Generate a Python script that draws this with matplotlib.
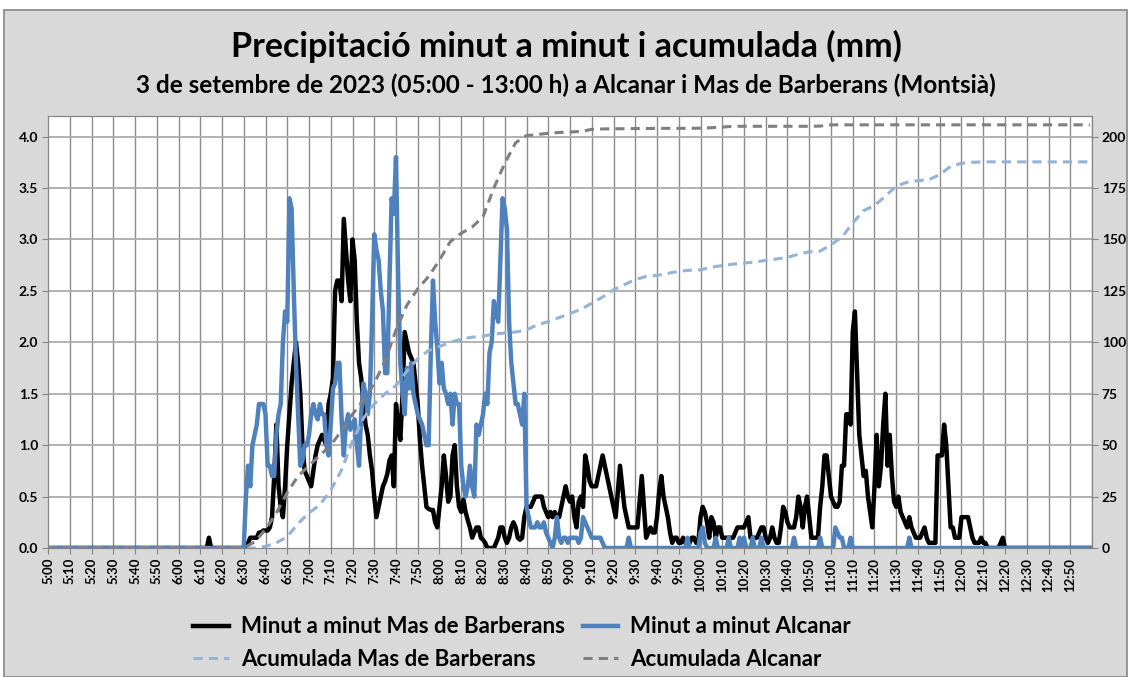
import numpy as np
import matplotlib.pyplot as plt
from matplotlib.patches import Rectangle
from matplotlib.lines import Line2D

plt.rcParams['font.family'] = ['Lato', 'DejaVu Sans']

# minutes counted from 05:00 (0) to 13:00 (480)
n_min = 480
tick_labels = [f"{5 + m // 60}:{m % 60:02d}" for m in range(0, 480, 10)]

# Mas de Barberans, minute by minute (mm), from 06:32 (minute 92)
mas_start = 92
mas_vals = [
    0.05, 0.1, 0.1, 0.1, 0.1, 0.15, 0.15, 0.17, 0.17, 0.17,
    0.2, 0.3, 0.7, 1.2, 0.6, 0.4, 0.3, 0.6, 1.0, 1.3,
    1.6, 1.8, 2.0, 1.8, 1.5, 1.0, 0.75, 0.7, 0.65, 0.6,
    0.75, 0.9, 1.0, 1.05, 1.1, 1.05, 1.0, 1.4, 1.5, 1.65,
    2.5, 2.6, 2.6, 2.4, 3.2, 2.9, 2.6, 2.4, 3.0, 2.8,
    2.2, 1.8, 1.65, 1.4, 1.2, 1.1, 0.9, 0.75, 0.5, 0.3,
    0.4, 0.5, 0.6, 0.65, 0.72, 0.85, 0.9, 0.6, 1.4, 1.2,
    1.05, 1.5, 2.1, 2.0, 1.9, 1.85, 1.8, 1.6, 1.4, 1.05,
    0.8, 0.6, 0.4, 0.38, 0.37, 0.37, 0.25, 0.2, 0.4, 0.6,
    0.9, 0.7, 0.45, 0.5, 0.9, 1.0, 0.6, 0.4, 0.35, 0.47,
    0.35, 0.27, 0.2, 0.1, 0.15, 0.2, 0.2, 0.1, 0.08, 0.05,
    0.0, 0.0, 0.0, 0.0, 0.05, 0.1, 0.2, 0.2, 0.1, 0.05,
    0.1, 0.2, 0.25, 0.2, 0.1, 0.08, 0.1, 0.3, 0.4, 0.4,
    0.4, 0.45, 0.5, 0.5, 0.5, 0.5, 0.4, 0.35, 0.3, 0.35,
    0.3, 0.35, 0.3, 0.3, 0.4, 0.5, 0.6, 0.5, 0.45, 0.5,
    0.3, 0.2, 0.45, 0.5, 0.4, 0.9, 0.8, 0.65, 0.6, 0.6,
    0.6, 0.7, 0.8, 0.9, 0.8, 0.7, 0.6, 0.5, 0.4, 0.3,
    0.55, 0.8, 0.6, 0.4, 0.3, 0.2, 0.2, 0.2, 0.2, 0.2,
    0.45, 0.7, 0.4, 0.1, 0.15, 0.2, 0.15, 0.15, 0.3, 0.55,
    0.7, 0.5, 0.4, 0.3, 0.15, 0.05, 0.1, 0.1, 0.05, 0.05,
    0.1, 0.05, 0.03, 0.05, 0.1, 0.1, 0.05, 0.05, 0.3, 0.4,
    0.35, 0.25, 0.1, 0.3, 0.25, 0.1, 0.2, 0.2, 0.1, 0.1,
    0.1, 0.1, 0.1, 0.1, 0.15, 0.2, 0.2, 0.2, 0.2, 0.25,
    0.3, 0.1, 0.1, 0.1, 0.1, 0.15, 0.2, 0.2, 0.1, 0.05,
    0.1, 0.2, 0.1, 0.05, 0.05, 0.2, 0.4, 0.35, 0.25, 0.2,
    0.2, 0.2, 0.3, 0.5, 0.4, 0.2, 0.4, 0.5, 0.3, 0.1,
    0.1, 0.1, 0.1, 0.4, 0.6, 0.9, 0.9, 0.7, 0.5, 0.45,
    0.4, 0.4, 0.45, 0.8, 0.8, 1.3, 1.3, 1.2, 2.1, 2.3,
    1.7, 1.1, 0.9, 0.7, 0.75, 0.5, 0.35, 0.2, 0.6, 1.1,
    0.6, 0.8, 1.2, 1.5, 0.8, 1.1, 0.7, 0.45, 0.4, 0.5,
    0.35, 0.3, 0.25, 0.2, 0.3, 0.2, 0.15, 0.1, 0.1, 0.1,
    0.15, 0.2, 0.1, 0.05, 0.05, 0.05, 0.05, 0.9, 0.9, 0.9,
    1.2, 1.0, 0.6, 0.2, 0.2, 0.1, 0.1, 0.1, 0.3, 0.3,
    0.3, 0.3, 0.2, 0.1, 0.05, 0.05, 0.05, 0.1, 0.05, 0.05,
    0.0, 0.0, 0.0, 0.0, 0.0, 0.0, 0.05, 0.1,
]
mas_blip_min = [74]
mas_blip_val = [0.1]

# Alcanar, minute by minute (mm), from 06:30 (minute 90)
alc_start = 90
alc_vals = [
    0.0, 0.5, 0.8, 0.6, 1.0, 1.1, 1.2, 1.4, 1.4, 1.4,
    1.3, 0.8, 0.8, 0.7, 0.7, 1.1, 1.3, 1.4, 2.0, 2.3,
    2.2, 3.4, 3.3, 2.5, 1.8, 1.3, 0.8, 0.85, 1.0, 1.0,
    1.1, 1.3, 1.4, 1.3, 1.25, 1.4, 1.3, 1.3, 1.0, 0.9,
    1.2, 1.55, 1.6, 1.8, 1.8, 1.25, 0.9, 1.2, 1.3, 1.15,
    1.2, 1.25, 1.0, 0.8, 1.3, 1.6, 1.5, 1.3, 1.5, 2.2,
    3.05, 2.9, 2.8, 2.5, 2.3, 1.7, 1.7, 2.6, 3.4, 3.25,
    3.8, 2.6, 1.8, 1.5, 1.3, 1.75, 1.55, 1.8, 1.5, 1.4,
    1.3, 1.25, 1.2, 1.1, 1.0, 1.0, 1.9, 2.6, 2.2, 1.95,
    1.6, 1.8, 1.55, 1.5, 1.4, 1.5, 1.2, 1.5, 1.4, 1.4,
    0.8, 0.6, 0.5, 0.6, 0.8, 0.6, 0.5, 1.2, 1.1, 1.2,
    1.3, 1.5, 1.4, 1.9, 2.0, 2.4, 2.3, 2.2, 2.8, 3.4,
    3.3, 3.1, 2.2, 1.8, 1.6, 1.4, 1.4, 1.3, 1.2, 1.5,
    0.4, 0.3, 0.2, 0.2, 0.2, 0.25, 0.2, 0.2, 0.25, 0.15,
    0.1, 0.05, 0.0, 0.1, 0.3, 0.1, 0.05, 0.1, 0.1, 0.05,
    0.1, 0.1, 0.1, 0.1, 0.05, 0.1, 0.3, 0.25, 0.2, 0.15,
    0.1, 0.1, 0.1, 0.1, 0.1, 0.05,
]
alc_tail_min = [267, 294, 300, 301, 302, 307, 313, 318, 320, 324, 328,
                343, 355, 362, 363, 364, 365, 369, 396]
alc_tail_val = [0.1, 0.1, 0.15, 0.2, 0.05, 0.1, 0.1, 0.1, 0.1, 0.1, 0.1,
                0.1, 0.1, 0.2, 0.15, 0.1, 0.1, 0.1, 0.1]

# accumulated (mm), read every 5 minutes from 06:30
acum_min = [0] + list(range(90, 480, 5)) + [479]
acum_mas = [
    0,
    0, 0, 0.8, 2.5, 5.5, 12, 17, 21, 28, 38,
    52, 63, 70, 75, 79, 86, 92, 96, 98, 100,
    101.5, 102.5, 103, 104, 104.5, 105, 106, 108.5, 110, 112,
    114, 116, 119, 122, 125.5, 128, 130.5, 132, 132.5, 133.5,
    134.5, 135, 135.2, 136.5, 137.3, 138, 138.5, 139, 139.8, 140.5,
    141.3, 142.8, 144, 144.3, 147.5, 151, 158, 164, 166.5, 171,
    176, 177.8, 178.6, 179, 181.5, 185.5, 187, 187.5, 187.7, 187.7,
    187.7, 187.7, 187.7, 187.7, 187.7, 187.7, 187.7, 187.7,
    187.7,
]
acum_alc = [
    0,
    0, 3, 9, 17, 27, 35, 40, 45, 50, 57,
    65, 72, 80, 91, 106, 118, 126, 132, 140, 149,
    153, 156, 161, 175, 187, 197, 200.5, 201, 201.6, 202,
    202.2, 202.5, 203.5, 203.7, 203.8, 203.8, 203.9, 203.9, 204, 204,
    204, 204, 204.1, 204.3, 204.6, 205, 205, 205, 205, 205,
    205, 205, 205, 205.1, 205.7, 205.7, 205.7, 205.7, 205.7, 205.7,
    205.7, 205.7, 205.7, 205.7, 205.7, 205.7, 205.7, 205.7, 205.7, 205.7,
    205.7, 205.7, 205.7, 205.7, 205.7, 205.7, 205.7, 205.7,
    205.7,
]

mas = np.zeros(n_min)
mas[mas_start:mas_start + len(mas_vals)] = mas_vals
mas[mas_blip_min] = mas_blip_val
alc = np.zeros(n_min)
alc[alc_start:alc_start + len(alc_vals)] = alc_vals
alc[alc_tail_min] = alc_tail_val
x = np.arange(n_min)

W, H = 1132, 677
fig = plt.figure(figsize=(W / 100, H / 100), dpi=100)
fig.patch.set_facecolor('white')
fig.patches.append(Rectangle((4 / W, 0), 1123 / W, 667 / H, transform=fig.transFigure,
                             facecolor='#D9D9D9', edgecolor='#868686', lw=1.2, zorder=-5))

ax = fig.add_axes([48 / W, 1 - 548 / H, 1044 / W, 432 / H])
ax.set_facecolor('white')

c_mas, c_alc = '#000000', '#4F81BD'
c_amas, c_aalc = '#95B3D7', '#7F7F7F'

ax.plot(x, mas, color=c_mas, lw=3.2, solid_joinstyle='round', zorder=3)
ax.plot(x, alc, color=c_alc, lw=3.2, solid_joinstyle='round', zorder=4)

ax.set_xlim(0, 480)
ax.set_ylim(0, 4.2)
ax.set_yticks(np.arange(0, 4.01, 0.5))
ax.set_yticklabels([f"{v:.1f}" for v in np.arange(0, 4.01, 0.5)], fontsize=10, fontweight='bold')
ax.set_xticks(np.arange(0, 480, 10))
ax.set_xticklabels(tick_labels, rotation=90, fontsize=9.5, fontweight='bold')
for xv in range(10, 490, 10):
    ax.axvline(xv, color='#8C8C8C', lw=1.0, zorder=1)
for yv in np.arange(0.5, 4.01, 0.5):
    ax.axhline(yv, color='#ABABAB', lw=1.3, zorder=1)
ax.tick_params(axis='both', direction='out', length=4, color='#868686', pad=3)
for s in ax.spines.values():
    s.set_color('#868686')

ax2 = ax.twinx()
ax2.plot(acum_min, acum_mas, color=c_amas, lw=2.2, ls=(0, (3, 2)), zorder=5)
ax2.plot(acum_min, acum_alc, color=c_aalc, lw=2.2, ls=(0, (3, 2)), zorder=5)
ax2.set_ylim(0, 210)
ax2.set_yticks(np.arange(0, 201, 25))
ax2.set_yticklabels([str(v) for v in range(0, 201, 25)], fontsize=10, fontweight='bold')
ax2.tick_params(axis='y', direction='out', length=4, color='#868686', pad=3)
for s in ax2.spines.values():
    s.set_color('#868686')

fig.text(0.5, 1 - 46 / H, "Precipitació minut a minut i acumulada (mm)",
         ha='center', va='center', fontsize=24.5, fontweight='bold')
fig.text(0.5, 1 - 85 / H,
         "3 de setembre de 2023 (05:00 - 13:00 h) a Alcanar i Mas de Barberans (Montsià)",
         ha='center', va='center', fontsize=17.5, fontweight='bold')

handles = [
    Line2D([], [], color=c_mas, lw=3.2),
    Line2D([], [], color=c_amas, lw=2.2, ls=(0, (3, 2))),
    Line2D([], [], color=c_alc, lw=3.2),
    Line2D([], [], color=c_aalc, lw=2.2, ls=(0, (3, 2))),
]
labels = ["Minut a minut Mas de Barberans", "Acumulada Mas de Barberans",
          "Minut a minut Alcanar", "Acumulada Alcanar"]
fig.legend(handles, labels, loc='center', bbox_to_anchor=(522 / W, 1 - 643 / H), ncol=2,
           frameon=False, prop={'size': 16, 'weight': 'bold'}, handlelength=1.6,
           handletextpad=0.55, columnspacing=0.8, labelspacing=0.5)

fig.savefig("out.png", dpi=100, facecolor=fig.get_facecolor())
